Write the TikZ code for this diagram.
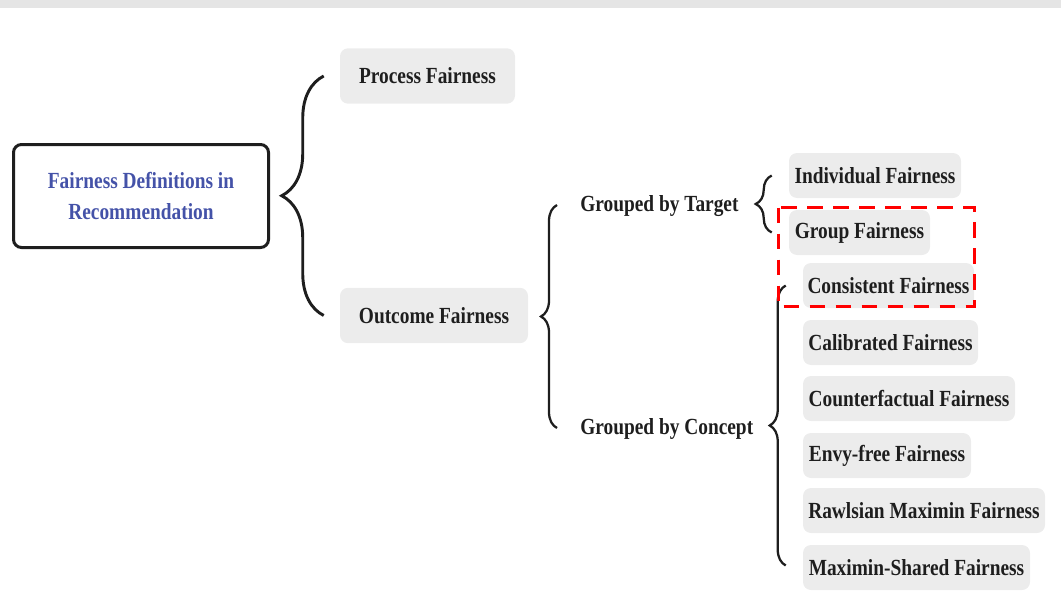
\documentclass[tikz,border=0pt]{standalone}
\usepackage{fontspec}
\setmainfont{Liberation Serif}[FakeStretch=0.84]
\usetikzlibrary{decorations.pathreplacing,calc}
\definecolor{boxgray}{RGB}{236,236,236}
\definecolor{topgray}{RGB}{229,229,229}
\definecolor{rootblue}{RGB}{68,82,168}
\definecolor{ink}{RGB}{30,30,30}
\tikzset{
  txt/.style={font=\fontsize{17.3}{23}\selectfont\bfseries, text=ink, inner sep=0pt},
  pill/.style={txt, fill=boxgray, rounded corners=6pt, minimum height=33.75pt},
  midbox/.style={txt, fill=boxgray, rounded corners=6pt, minimum height=41.5pt},
  rootbox/.style={txt, draw=ink, line width=2.25pt, rounded corners=6pt, align=center,
    text=rootblue, minimum width=191.25pt, minimum height=77.25pt},
  bracebig/.style={decorate, decoration={brace, amplitude=31.5pt}, line width=2.2pt, draw=ink},
  bracesmall/.style={decorate, decoration={brace, amplitude=12pt}, line width=1.7pt, draw=ink},
  hl/.style={draw=red, line width=2.6pt, dash pattern=on 11.5pt off 8pt}
}
\begin{document}
\begin{tikzpicture}[x=0.75pt,y=-0.75pt]
\useasboundingbox (0,0) rectangle (1061,603);
\fill[topgray] (0,0) rectangle (1061,7.5);

\node[rootbox] (root) at (141,196) {Fairness Definitions in\\Recommendation};

\node[midbox, minimum width=131.25pt] (proc) at (427.5,76) {Process Fairness};
\node[midbox, minimum width=141pt] (outc) at (434,315.5) {Outcome Fairness};

\node[txt, anchor=west] (gtgt) at (580,206) {Grouped by Target};
\node[txt, anchor=west] (gcon) at (580,429) {Grouped by Concept};

\node[pill, minimum width=129pt] (indiv) at (875,175.5) {Individual Fairness};
\node[pill, minimum width=105.75pt] (group) at (859.5,232.5) {Group Fairness};

\node[pill, minimum width=128.25pt] (consist) at (888.5,285.5) {Consistent Fairness};
\node[pill, minimum width=131.25pt] (calib) at (890.5,342.5) {Calibrated Fairness};
\node[pill, minimum width=159pt] (counter) at (909,398.5) {Counterfactual Fairness};
\node[pill, minimum width=126pt] (envy) at (887,455.5) {Envy-free Fairness};
\node[pill, minimum width=181.5pt] (rawls) at (924,510.5) {Rawlsian Maximin Fairness};
\node[pill, minimum width=170.25pt] (maxsh) at (916.5,567.5) {Maximin-Shared Fairness};

% braces
\draw[bracebig] ($(outc.west)+(-16,0)$) -- ($(proc.west)+(-16,0)$);
\draw[bracesmall] ($(gcon.west)+(-23,-1)$) -- ($(gtgt.west)+(-23,-1)$);
\draw[bracesmall] ($(group.west)+(-17,0)$) -- ($(indiv.west)+(-17,0)$);
\draw[bracesmall] ($(maxsh.west)+(-17,-2)$) -- ($(consist.west)+(-17,0)$);

% highlight
\draw[hl] (778.5,207.5) rectangle (974.5,306.5);
\end{tikzpicture}
\end{document}
